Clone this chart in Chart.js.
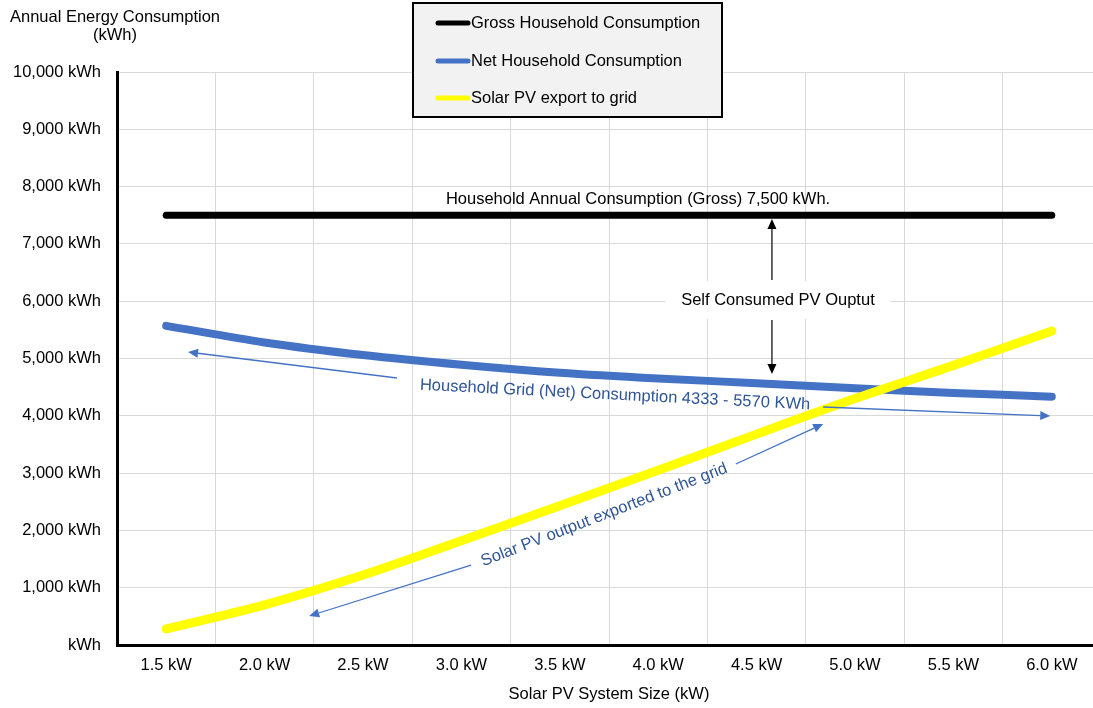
<!DOCTYPE html>
<html><head><meta charset="utf-8">
<script src="https://cdn.jsdelivr.net/npm/chart.js@4/dist/chart.umd.min.js"></script>
<style>
html,body{margin:0;padding:0;overflow:hidden;background:#fff}
#wrap{position:absolute;left:0;top:0;width:1102px;height:708px}
</style>
</head><body><div id="wrap"><canvas id="c"></canvas></div>
<script>
const systemSizes = ['1.5 kW','2.0 kW','2.5 kW','3.0 kW','3.5 kW','4.0 kW','4.5 kW','5.0 kW','5.5 kW','6.0 kW'];
const grossConsumption = [7500,7500,7500,7500,7500,7500,7500,7500,7500,7500];
const netConsumption = [5570,5280,5060,4890,4750,4650,4570,4480,4400,4333];
const solarExport = [280,700,1220,1820,2430,3050,3680,4300,4880,5480];
const seriesNames = ['Gross Household Consumption','Net Household Consumption','Solar PV export to grid'];
const yTitleLines = ['Annual Energy Consumption','(kWh)'];
const xTitle = 'Solar PV System Size (kW)';

const FONT = '"Liberation Sans", Arial, sans-serif';
const FS = 16.5;

function arrow(ctx, x1, y1, x2, y2, color, w) {
  ctx.save();
  ctx.strokeStyle = color; ctx.fillStyle = color; ctx.lineWidth = w;
  const a = Math.atan2(y2 - y1, x2 - x1);
  const L = 10, H = 4.5;
  const bx = x2 - L * Math.cos(a), by = y2 - L * Math.sin(a);
  ctx.beginPath(); ctx.moveTo(x1, y1); ctx.lineTo(bx, by); ctx.stroke();
  ctx.beginPath();
  ctx.moveTo(x2, y2);
  ctx.lineTo(bx + H * Math.sin(a), by - H * Math.cos(a));
  ctx.lineTo(bx - H * Math.sin(a), by + H * Math.cos(a));
  ctx.closePath(); ctx.fill();
  ctx.restore();
}

const annotations = {
  id: 'annotations',
  afterDatasetsDraw(chart) {
    const ctx = chart.ctx;
    const xs = chart.scales.x, ys = chart.scales.y;
    const X = v => xs.getPixelForValue(v);
    const Y = v => ys.getPixelForValue(v);
    ctx.save();
    ctx.font = FS + 'px ' + FONT;
    ctx.textAlign = 'center'; ctx.textBaseline = 'middle';
    // Gross label
    ctx.fillStyle = '#000';
    ctx.fillText('Household Annual Consumption (Gross) 7,500 kWh.', X(4.795), Y(7784));
    // Self consumed label with white box
    const sx = X(6.217), sy = Y(6021);
    const sText = 'Self Consumed PV Ouptut';
    const tw = ctx.measureText(sText).width;
    ctx.fillStyle = '#fff';
    ctx.fillRect(sx - tw / 2 - 16, sy - 19, tw + 32, 38);
    ctx.fillStyle = '#000';
    ctx.fillText(sText, sx, sy);
    arrow(ctx, X(6.156), Y(6370), X(6.156), Y(7435), '#000', 1.2);
    arrow(ctx, X(6.156), Y(5672), X(6.156), Y(4730), '#000', 1.2);
    // Net label (slightly rotated)
    ctx.fillStyle = '#2f5597';
    ctx.save();
    ctx.translate(X(4.561), Y(4363));
    ctx.rotate(2.9 * Math.PI / 180);
    ctx.fillText('Household Grid (Net) Consumption 4333 - 5570 KWh', 0, 0);
    ctx.restore();
    arrow(ctx, X(2.345), Y(4660), X(0.222), Y(5113), '#4472c4', 1.3);
    arrow(ctx, X(6.677), Y(4154), X(8.984), Y(3997), '#4472c4', 1.3);
    // Solar label
    ctx.save();
    ctx.translate(X(4.451), Y(2269));
    ctx.rotate(-21 * Math.PI / 180);
    ctx.fillText('Solar PV output exported to the grid', 0, 0);
    ctx.restore();
    arrow(ctx, X(3.098), Y(1396), X(1.453), Y(506), '#4472c4', 1.3);
    arrow(ctx, X(5.789), Y(3159), X(6.677), Y(3857), '#4472c4', 1.3);
    ctx.restore();
  },
  afterDraw(chart) {
    const ctx = chart.ctx;
    ctx.save();
    ctx.font = FS + 'px ' + FONT;
    ctx.fillStyle = '#000';
    ctx.textAlign = 'center'; ctx.textBaseline = 'middle';
    ctx.fillText(yTitleLines[0], 115, 17);
    ctx.fillText(yTitleLines[1], 115, 35);
    // legend box
    ctx.fillStyle = '#f2f2f2';
    ctx.fillRect(413, 3, 309, 114);
    ctx.strokeStyle = '#000'; ctx.lineWidth = 2;
    ctx.strokeRect(413, 3, 309, 114);
    const rows = [23, 61, 98];
    chart.data.datasets.forEach((ds, i) => {
      ctx.strokeStyle = ds.borderColor; ctx.lineWidth = 5; ctx.lineCap = 'round';
      ctx.beginPath(); ctx.moveTo(438, rows[i]); ctx.lineTo(468, rows[i]); ctx.stroke();
      ctx.fillStyle = '#000'; ctx.textAlign = 'left';
      ctx.fillText(ds.label, 471, rows[i]);
    });
    ctx.restore();
  }
};

new Chart(document.getElementById('c'), {
  type: 'line',
  data: {
    labels: systemSizes,
    datasets: [
      { label: seriesNames[0], data: grossConsumption, borderColor: '#000000', borderWidth: 7, order: 2 },
      { label: seriesNames[1], data: netConsumption, borderColor: '#4472c4', borderWidth: 8, order: 1 },
      { label: seriesNames[2], data: solarExport, borderColor: '#ffff00', borderWidth: 9, order: 0 }
    ].map(d => Object.assign(d, { pointRadius: 0, fill: false, tension: 0.3, borderCapStyle: 'round', borderJoinStyle: 'round' }))
  },
  options: {
    responsive: true,
    maintainAspectRatio: false,
    animation: false,
    layout: { padding: { top: 72, left: 0, right: 1, bottom: 0 } },
    plugins: { legend: { display: false }, tooltip: { enabled: false } },
    scales: {
      x: {
        offset: true,
        grid: { offset: true, color: '#d9d9d9', lineWidth: 1, drawTicks: false },
        border: { color: '#000', width: 3 },
        ticks: { color: '#000', font: { family: FONT, size: FS }, padding: 11, maxRotation: 0 },
        title: { display: true, text: xTitle, color: '#000', font: { family: FONT, size: FS } },
        afterFit: s => { s.height = 63; }
      },
      y: {
        min: 0, max: 10000,
        ticks: {
          stepSize: 1000, color: '#000', font: { family: FONT, size: FS }, padding: 16,
          callback: v => v === 0 ? 'kWh' : v.toLocaleString('en-US') + ' kWh'
        },
        grid: { color: '#d9d9d9', lineWidth: 1, drawTicks: false },
        border: { color: '#000', width: 3 },
        afterFit: s => { s.width = 117; }
      }
    }
  },
  plugins: [annotations]
});
</script>
</body></html>
